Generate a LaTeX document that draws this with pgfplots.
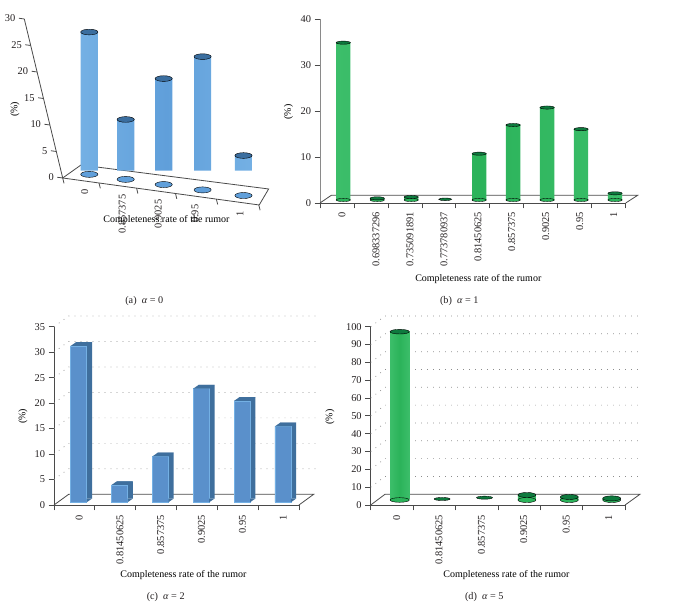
\documentclass[border=0pt]{standalone}
\usepackage{pgfplots}
\pgfplotsset{compat=1.18}
\usepackage{pgfplotstable}
\usepackage{fontspec}
\setmainfont{Liberation Serif}
\definecolor{txt}{HTML}{231F20}
\definecolor{axc}{HTML}{4A4A4A}
\definecolor{axg}{HTML}{8A8A8A}
\definecolor{blA}{HTML}{609FDA}
\definecolor{blAe}{HTML}{74B0E4}
\definecolor{blAt}{HTML}{3B6E9F}
\definecolor{grB}{HTML}{2BB35A}
\definecolor{grBe}{HTML}{3CBE6A}
\definecolor{grBt}{HTML}{0E7A3E}
\definecolor{blC}{HTML}{5A90CB}
\definecolor{blCd}{HTML}{3F6F9D}
\definecolor{dotc}{HTML}{8C8C8C}
\pgfdeclareplotmark{cubetop}{%
  \pgfpathmoveto{\pgfqpoint{-8pt}{0pt}}%
  \pgfpathlineto{\pgfqpoint{8pt}{0pt}}%
  \pgfpathlineto{\pgfqpoint{13.3pt}{3.7pt}}%
  \pgfpathlineto{\pgfqpoint{-2.7pt}{3.7pt}}%
  \pgfpathclose\pgfusepathqfill}
\pgfdeclareplotmark{cubebase}{%
  \pgfpathmoveto{\pgfqpoint{8pt}{0pt}}%
  \pgfpathlineto{\pgfqpoint{13.3pt}{3.7pt}}%
  \pgfpathlineto{\pgfqpoint{8pt}{3.7pt}}%
  \pgfpathclose\pgfusepathqfill}
\pgfplotsset{
  panel/.style={
    clip=false,
    axis lines=left,
    x axis line style={-,color=axc,line width=.8pt},
    y axis line style={-,color=axc,line width=.8pt},
    tick align=outside,
    ytick pos=left,
    xtick pos=bottom,
    enlargelimits=false,
    major tick length=5.5pt,
    minor tick length=5.5pt,
    major x tick style={draw=none},
    minor x tick style={color=axc,line width=.8pt},
    y tick style={color=axc,line width=.8pt},
    ticklabel style={font=\fontsize{10.4}{12}\selectfont,text=txt},
    label style={font=\fontsize{10.7}{12}\selectfont,text=txt},
    /pgf/number format/assume math mode=true,
    xticklabel style={rotate=90,anchor=east},
    yticklabel style={anchor=east},
    xlabel={Completeness rate of the rumor},
    ylabel={(\%)},
    every axis x label/.style={anchor=center},
    every axis y label/.style={anchor=center,rotate=90},
  },
  cylbar/.style={ybar,bar shift=0pt,bar width=#1,draw=none},
  floorline/.style={color=axc,line width=.8pt,mark=none},
  griddots/.style={color=dotc,line width=.7pt,dash pattern=on .8pt off 5.2pt,mark=none},
  ell/.style n args={3}{only marks,mark=*,mark size=#1,mark options={draw=none,fill=#3,yscale=#2}},
}
\pgfplotstableread{
x y
0.677 26.85
1.603 11.3
2.57 20.0
3.56 25.15
4.6 7.55
}\tableA
\pgfplotstableread{
x y
0.5 34.2
1.5 0.36
2.5 0.65
4.5 10.07
5.5 16.3
6.5 20.1
7.5 15.4
8.5 1.45
}\tableB
\pgfplotstableread{
x y
3.5 0.15
}\tableBs
\pgfplotstableread{
x y
0.5 30.7
1.5 3.4
2.5 9.0
3.5 22.3
4.5 19.9
5.5 14.9
}\tableC
\pgfplotstableread{
x y
0.5 94.4
}\tableDa
\pgfplotstableread{
x y
1.5 0.56
2.5 1.3
}\tableDb
\pgfplotstableread{
x y
3.5 2.8
4.5 1.7
5.5 0.9
}\tableDc
\begin{document}
\begin{tikzpicture}
\path[use as bounding box] (0pt,0pt) rectangle (675pt,609pt);
% -------- (a)
\begin{axis}[panel,anchor=origin,at={(62.7pt,431pt)},
  x={(39.3pt,-5.4pt)},y={(-1.28pt,5.3pt)},
  xmin=0,xmax=5,ymin=0,ymax=30,
  ytick={0,5,...,30},
  xtick={0.5,1.458,2.374,3.308,4.453},
  xticklabels={0,0.857375,0.9025,0.95,1},
  minor xtick={0,0.924,1.88,2.87,3.91,4.99},
  xticklabel style={yshift=-1pt},
  every axis x label/.style={at={(axis cs:2.46,-5.5)},anchor=center},
  every axis y label/.style={at={(axis cs:-0.82,12.1)},anchor=center,rotate=90},
]
\addplot[floorline] coordinates {(0,0) (0.564,3.03) (5.35,3.38) (5,0)};
\end{axis}
\begin{axis}[hide axis,clip=false,anchor=origin,at={(62.7pt,431pt)},
  x={(39.3pt,-5.4pt)},y={(0pt,5.3pt)},
  xmin=0,xmax=5,ymin=0,ymax=30]
\addplot[ell={8.6pt}{.35}{blA},yshift=7.3pt] table[x=x,y expr=0]{\tableA};
\addplot[cylbar=17.2pt,left color=blAe,right color=blAe,middle color=blA,yshift=7.3pt] table[x=x,y=y]{\tableA};
\addplot[ell={8.6pt}{.33}{blAt},yshift=7.3pt] table[x=x,y=y]{\tableA};
\end{axis}
% -------- (b)
\begin{axis}[panel,anchor=origin,at={(320pt,406pt)},
  x=33.97pt,y=4.6pt,
  xmin=0,xmax=9,ymin=0,ymax=40,
  ytick={0,10,...,40},
  xtick={0.5,1.5,...,8.5},
  xticklabels={0,0.698337296,0.735091891,0.773780937,0.81450625,0.857375,0.9025,0.95,1},
  minor xtick={0,1,...,9},
  y axis line style={-,color=axg,line width=1pt},
  xticklabel style={yshift=-5pt},
  every axis x label/.style={at={(axis cs:4.66,-16.6)},anchor=center},
  every axis y label/.style={at={(axis cs:-0.93,19.8)},anchor=center,rotate=90},
]
\addplot[floorline] coordinates {(0,0) (0.333,1.67) (9.35,1.67) (9,0)};
\addplot[ell={7.15pt}{.22}{grB},xshift=6.3pt,yshift=3pt] table[x=x,y expr=0]{\tableB};
\addplot[cylbar=14.3pt,left color=grBe,right color=grBe,middle color=grB,xshift=6.3pt,yshift=3pt] table[x=x,y=y]{\tableB};
\addplot[ell={7.15pt}{.22}{grBt},xshift=6.3pt,yshift=3pt] table[x=x,y=y]{\tableB};
\addplot[ell={6.5pt}{.2}{grBt},xshift=6.3pt,yshift=3pt] table[x=x,y=y]{\tableBs};
\end{axis}
% -------- (c)
\begin{axis}[panel,anchor=origin,at={(54pt,104pt)},
  x=40.83pt,y=5.094pt,
  xmin=0,xmax=6,ymin=0,ymax=35,
  ytick={0,5,...,35},
  xtick={0.5,1.5,...,5.5},
  xticklabels={0,0.81450625,0.857375,0.9025,0.95,1},
  minor xtick={0,1,...,6},
  xticklabel style={yshift=-4.7pt,xshift=-1pt},
  every axis x label/.style={at={(axis cs:3.17,-13.8)},anchor=center},
  every axis y label/.style={at={(axis cs:-0.76,17.4)},anchor=center,rotate=90},
]
\addplot[griddots] coordinates {(0,5) (0.36,7.1) (6.4,7.1)};
\addplot[griddots] coordinates {(0,10) (0.36,12.1) (6.4,12.1)};
\addplot[griddots] coordinates {(0,15) (0.36,17.1) (6.4,17.1)};
\addplot[griddots] coordinates {(0,20) (0.36,22.1) (6.4,22.1)};
\addplot[griddots] coordinates {(0,25) (0.36,27.1) (6.4,27.1)};
\addplot[griddots] coordinates {(0,30) (0.36,32.1) (6.4,32.1)};
\addplot[griddots] coordinates {(0,35) (0.36,37.1) (6.4,37.1)};
\addplot[floorline] coordinates {(0,0) (0.36,2.1) (6.36,2.1) (6,0)};
\addplot[ybar,bar shift=0pt,bar width=16pt,draw=none,fill=blCd,xshift=9.6pt,yshift=6.4pt] table[x=x,y=y]{\tableC};
\addplot[only marks,mark=cubebase,mark options={fill=blCd,draw=none},xshift=4.3pt,yshift=2.7pt] table[x=x,y expr=0]{\tableC};
\addplot[ybar,bar shift=0pt,bar width=16pt,draw=blAe,line width=.5pt,fill=blC,xshift=4.3pt,yshift=2.7pt] table[x=x,y=y]{\tableC};
\addplot[only marks,mark=cubetop,mark options={fill=blCd,draw=none},xshift=4.3pt,yshift=2.7pt] table[x=x,y=y]{\tableC};
\end{axis}
% -------- (d)
\begin{axis}[panel,anchor=origin,at={(370.7pt,104pt)},
  x=42.4pt,y=1.783pt,
  xmin=0,xmax=6,ymin=0,ymax=100,
  ytick={0,10,...,100},
  xtick={0.5,1.5,...,5.5},
  xticklabels={0,0.81450625,0.857375,0.9025,0.95,1},
  minor xtick={0,1,...,6},
  xticklabel style={yshift=-4.7pt,xshift=-1pt},
  every axis x label/.style={at={(axis cs:3.2,-39.4)},anchor=center},
  every axis y label/.style={at={(axis cs:-0.96,49.4)},anchor=center,rotate=90},
]
\addplot[griddots] coordinates {(0,10) (0.337,16) (6.4,16)};
\addplot[griddots] coordinates {(0,20) (0.337,26) (6.4,26)};
\addplot[griddots] coordinates {(0,30) (0.337,36) (6.4,36)};
\addplot[griddots] coordinates {(0,40) (0.337,46) (6.4,46)};
\addplot[griddots] coordinates {(0,50) (0.337,56) (6.4,56)};
\addplot[griddots] coordinates {(0,60) (0.337,66) (6.4,66)};
\addplot[griddots] coordinates {(0,70) (0.337,76) (6.4,76)};
\addplot[griddots] coordinates {(0,80) (0.337,86) (6.4,86)};
\addplot[griddots] coordinates {(0,90) (0.337,96) (6.4,96)};
\addplot[griddots] coordinates {(0,100) (0.337,106) (6.4,106)};
\addplot[floorline] coordinates {(0,0) (0.337,6) (6.35,6) (6,0)};
\addplot[ell={9.65pt}{.24}{grB},xshift=7.8pt,yshift=5pt] table[x=x,y expr=0]{\tableDa};
\addplot[cylbar=19.3pt,left color=grBe,right color=grBe,middle color=grB,xshift=7.8pt,yshift=5pt] table[x=x,y=y]{\tableDa};
\addplot[ell={9.65pt}{.24}{grBt},xshift=7.8pt,yshift=5pt] table[x=x,y=y]{\tableDa};
\addplot[ell={8pt}{.19}{grBt},xshift=7.8pt,yshift=5pt] table[x=x,y=y]{\tableDb};
\addplot[ell={9pt}{.28}{grB},xshift=7.8pt,yshift=5pt] table[x=x,y expr=0]{\tableDc};
\addplot[cylbar=18pt,left color=grBe,right color=grBe,middle color=grB,xshift=7.8pt,yshift=5pt] table[x=x,y=y]{\tableDc};
\addplot[ell={9pt}{.28}{grBt},xshift=7.8pt,yshift=5pt] table[x=x,y=y]{\tableDc};
\end{axis}
% -------- captions
\node[text=txt,font=\fontsize{10.2}{12}\selectfont] at (144.3pt,308pt) {(a)~~\textit{α} = 0};
\node[text=txt,font=\fontsize{10.2}{12}\selectfont] at (459.3pt,308pt) {(b)~~\textit{α} = 1};
\node[text=txt,font=\fontsize{10.2}{12}\selectfont] at (165.7pt,12.3pt) {(c)~~\textit{α} = 2};
\node[text=txt,font=\fontsize{10.2}{12}\selectfont] at (484.3pt,12.3pt) {(d)~~\textit{α} = 5};
\end{tikzpicture}
\end{document}
